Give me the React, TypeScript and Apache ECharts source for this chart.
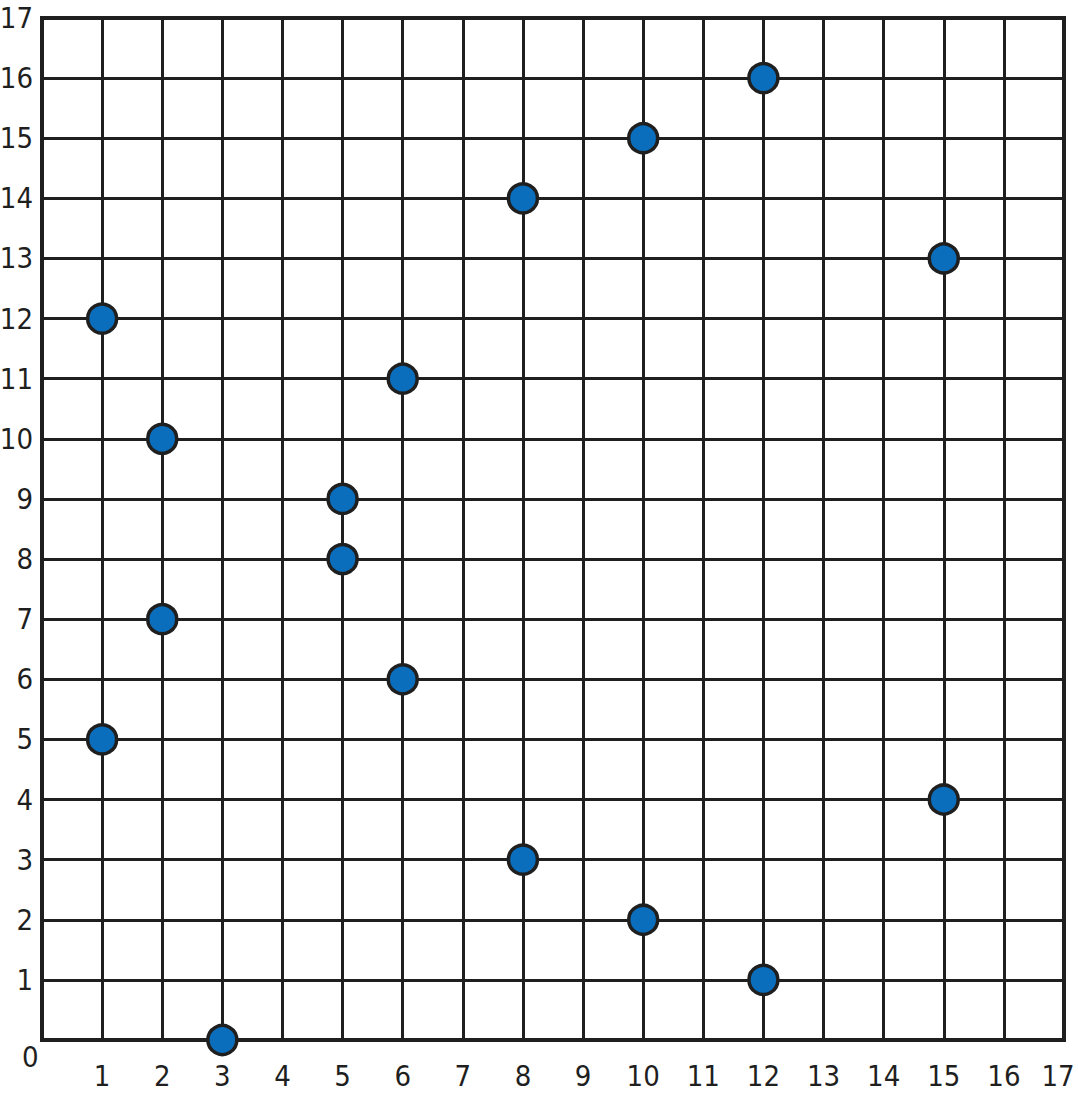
import React, { useEffect, useRef } from "react";
import * as echarts from "echarts";

const xValues = [1, 1, 2, 2, 3, 5, 5, 6, 6, 8, 8, 10, 10, 12, 12, 15, 15];
const yValues = [12, 5, 10, 7, 0, 9, 8, 11, 6, 14, 3, 15, 2, 16, 1, 13, 4];
const axisMin = 0;
const axisMax = 17;

const FONT = "'Liberation Sans Narrow', 'DejaVu Sans Condensed', 'Noto Sans', sans-serif";
const INK = "#1f1f1f";
const FS = 29;

export default function App() {
  const ref = useRef<HTMLDivElement>(null);
  useEffect(() => {
    if (!ref.current) return;
    const chart = echarts.init(ref.current, undefined, { renderer: "svg" });
    const data = xValues.map((x, i) => [x, yValues[i]]);
    const axisCommon = {
      type: "value" as const,
      min: axisMin,
      max: axisMax,
      interval: 1,
      axisLine: { show: false },
      axisTick: { show: false },
      splitLine: { show: true, lineStyle: { color: INK, width: 3 } },
    };
    chart.setOption({
      animation: false,
      backgroundColor: "#ffffff",
      grid: {
        left: 42,
        right: 14,
        top: 18,
        bottom: 56,
        outerBoundsMode: "none",
        containLabel: false,
        show: true,
        borderColor: INK,
        borderWidth: 4,
        backgroundColor: "transparent",
      },
      xAxis: {
        ...axisCommon,
        axisLabel: {
          margin: 21,
          fontSize: FS,
          fontFamily: FONT,
          color: INK,
          hideOverlap: false,
          formatter: (v: number) =>
            v === axisMin ? "" : v === axisMax ? `{last|${v}}` : String(v),
          rich: {
            last: {
              fontSize: FS,
              fontFamily: FONT,
              color: INK,
              padding: [0, 12, 0, 0],
            },
          },
        },
      },
      yAxis: {
        ...axisCommon,
        axisLabel: {
          margin: 9,
          fontSize: FS,
          fontFamily: FONT,
          color: INK,
          hideOverlap: false,
          formatter: (v: number) => (v === axisMin ? "" : String(v)),
        },
      },
      graphic: [
        {
          type: "text",
          left: 22,
          top: 1042,
          style: { text: "0", fontSize: FS, fontFamily: FONT, fill: INK },
        },
      ],
      series: [
        {
          type: "scatter",
          data,
          clip: false,
          symbol: "circle",
          symbolSize: 29,
          itemStyle: { color: "#0a6ebd", borderColor: INK, borderWidth: 3.5, opacity: 1 },
        },
      ],
    });
    return () => chart.dispose();
  }, []);
  return (
    <div
      ref={ref}
      style={{ position: "absolute", left: 0, top: 0, width: 1078, height: 1096 }}
    />
  );
}
